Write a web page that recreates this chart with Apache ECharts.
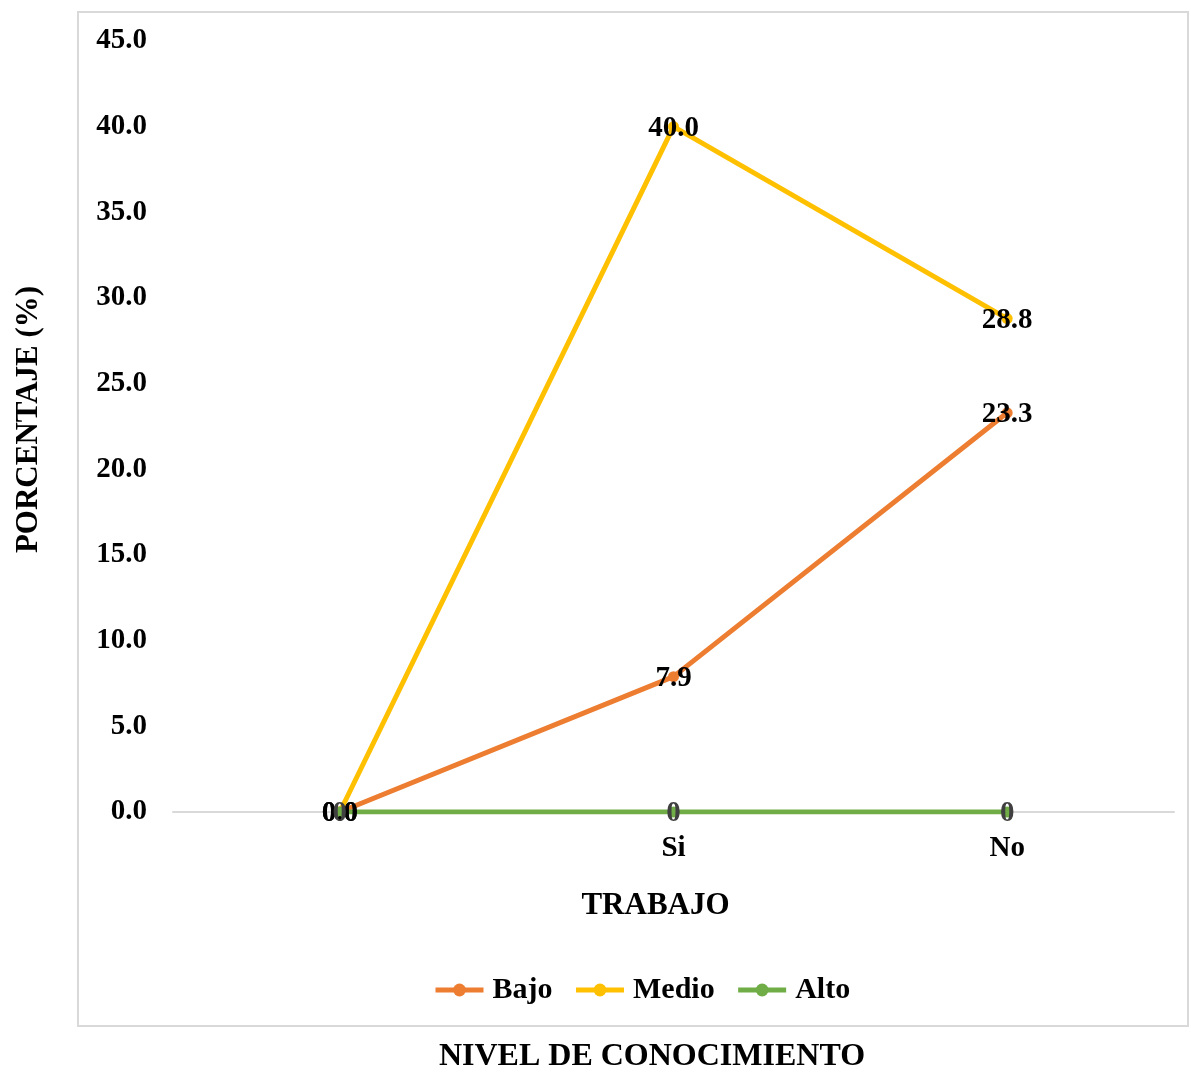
<!DOCTYPE html>
<html>
<head>
<meta charset="utf-8">
<script src="https://cdn.jsdelivr.net/npm/echarts@6/dist/echarts.min.js"></script>
<style>
  html, body { margin: 0; padding: 0; background: #fff; }
  #chart { width: 1191px; height: 1072px; }
</style>
</head>
<body>
<div id="chart"></div>
<script>
// Categories along the x axis (first one is an empty origin slot)
const categories = ['', 'Si', 'No'];

// Percentages per knowledge level
const bajo  = [0, 7.9, 23.3];
const medio = [0, 40.0, 28.8];
const alto  = [0, 0, 0];

const seriesNames = ['Bajo', 'Medio', 'Alto'];
const seriesColors = ['#ed7d31', '#ffc000', '#70ad47'];

const yTicks = { min: 0, max: 45, interval: 5 };

const FONT = 'Liberation Serif';

function lineSeries(name, data, color, labelFmt, labelColor) {
  return {
    name: name,
    type: 'line',
    data: data,
    symbol: 'circle',
    symbolSize: 11,
    lineStyle: { width: 5, color: color },
    itemStyle: { color: color },
    label: {
      show: true,
      position: 'inside',
      offset: [0, 2],
      formatter: labelFmt,
      fontFamily: FONT,
      fontWeight: 'bold',
      fontSize: 29,
      color: labelColor
    },
    emphasis: { disabled: true },
    animation: false
  };
}

const chart = echarts.init(document.getElementById('chart'));
chart.setOption({
  backgroundColor: '#fff',
  animation: false,
  textStyle: { fontFamily: FONT },
  grid: { left: 173, right: 17, top: 41, bottom: 260, containLabel: false, outerBoundsMode: 'none' },
  legend: {
    bottom: 62,
    left: 428,
    itemWidth: 48,
    itemHeight: 16,
    itemGap: 21,
    lineStyle: { width: 5 },
    textStyle: { fontFamily: FONT, fontWeight: 'bold', fontSize: 30, color: '#000', padding: [0, 0, 0, 4] },
    data: seriesNames
  },
  xAxis: {
    type: 'category',
    data: categories,
    boundaryGap: true,
    name: 'TRABAJO',
    nameLocation: 'middle',
    nameGap: 78,
    nameTextStyle: { fontFamily: FONT, fontWeight: 'bold', fontSize: 31, color: '#000', padding: [0, 36, 0, 0] },
    axisLine: { lineStyle: { color: '#d9d9d9', width: 2 } },
    axisTick: { show: false },
    axisLabel: { margin: 22, fontFamily: FONT, fontWeight: 'bold', fontSize: 29, color: '#000' },
    splitLine: { show: false }
  },
  yAxis: {
    type: 'value',
    min: yTicks.min,
    max: yTicks.max,
    interval: yTicks.interval,
    name: 'PORCENTAJE (%)',
    nameLocation: 'middle',
    nameRotate: 90,
    nameGap: 129,
    nameTextStyle: { fontFamily: FONT, fontWeight: 'bold', fontSize: 31, color: '#000', padding: [0, 0, 0, 14] },
    axisLine: { show: false },
    axisTick: { show: false },
    splitLine: { show: false },
    axisLabel: {
      margin: 26,
      padding: [4, 0, 0, 0],
      fontFamily: FONT, fontWeight: 'bold', fontSize: 29, color: '#000',
      formatter: v => v.toFixed(1)
    }
  },
  graphic: [
    {
      type: 'rect',
      shape: { x: 78, y: 12, width: 1110, height: 1014 },
      style: { fill: 'none', stroke: '#d9d9d9', lineWidth: 2 },
      z: -10
    },
    {
      type: 'text',
      x: 652,
      y: 1057,
      style: {
        text: 'NIVEL DE CONOCIMIENTO',
        font: 'bold 32px "Liberation Serif"',
        fill: '#000',
        align: 'center',
        verticalAlign: 'middle'
      }
    }
  ],
  series: [
    lineSeries(seriesNames[0], bajo, seriesColors[0], p => p.value.toFixed(1), '#000'),
    lineSeries(seriesNames[1], medio, seriesColors[1], p => p.value.toFixed(1), '#000'),
    lineSeries(seriesNames[2], alto, seriesColors[2], p => String(p.value), '#404040')
  ]
});
</script>
</body>
</html>
